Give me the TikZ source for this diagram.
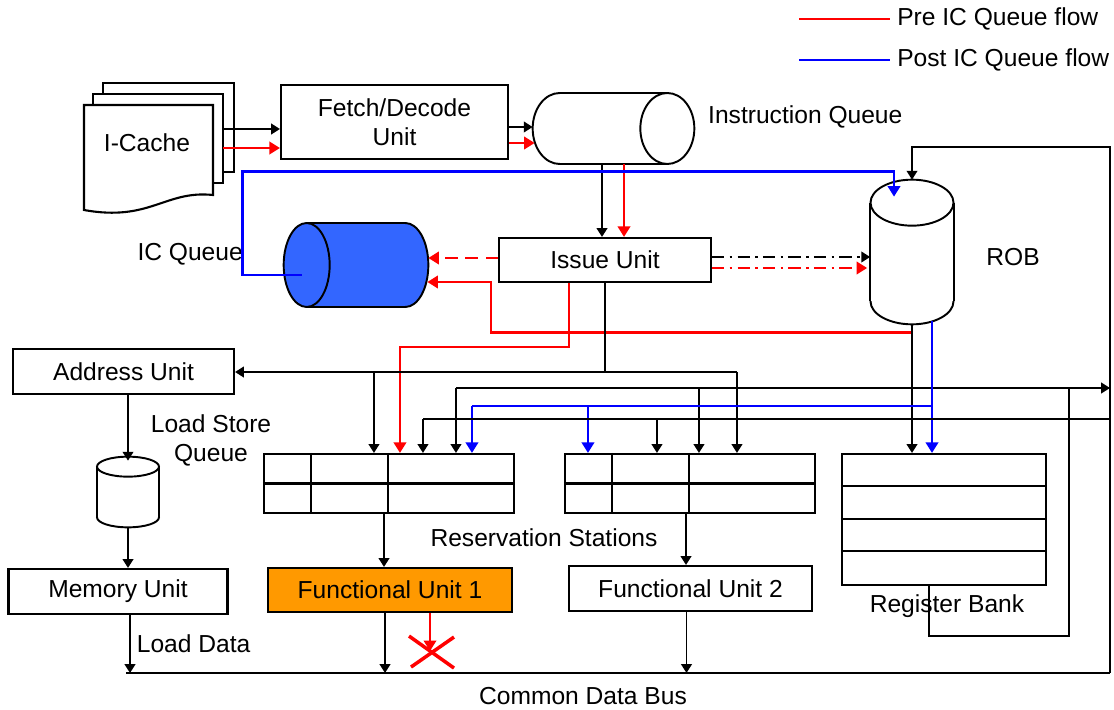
\documentclass[tikz,border=0pt]{standalone}
\usepackage{fontspec}
\setmainfont{Liberation Sans}
\usetikzlibrary{arrows.meta,calc}

\definecolor{preflow}{RGB}{255,0,0}
\definecolor{postflow}{RGB}{0,0,255}
\definecolor{icqfill}{RGB}{51,102,255}
\definecolor{fuorange}{RGB}{255,153,0}

\tikzset{
  unit/.style={draw, line width=1.2pt, fill=white, inner sep=0pt},
  frame/.style={inner sep=0pt},
  qline/.style={line width=1.1pt},
  link/.style={line width=1.1pt},
  arr/.style={-{Triangle[length=5pt,width=6pt]}},
  carr/.style={-{Triangle[length=6pt,width=7pt]}},
  pre/.style={preflow, line width=1.6pt},
  post/.style={postflow, line width=1.6pt},
  dashdot/.style={dash pattern=on 7pt off 3pt on 1.5pt off 3pt},
}

\begin{document}
\begin{tikzpicture}[x=0.02cm, y=-0.02cm, font=\fontsize{14}{16.5}\selectfont]
  \useasboundingbox (0,0) rectangle (1114,709);

  % Legend
  \coordinate (lgpre) at (799,19);
  \coordinate (lgpost) at (799,60);
  \draw[pre] (lgpre) -- ++(91,0) node[right, black] (lgpretxt) {Pre IC Queue flow};
  \draw[post] (lgpost) -- ++(91,0) node[right, black] (lgposttxt) {Post IC Queue flow};

  % I-Cache pages
  \draw[unit] (103,83) rectangle (234,172);
  \draw[unit] (93,94) rectangle (223,183);
  \draw[unit] (84,105) -- (213,105) -- (213,195) .. controls (165,190) and (150,222) .. (84,210) -- cycle;
  \node (icache) at (147,143) {I-Cache};
  \coordinate (icout1) at (223,129);
  \coordinate (icout2) at (223,148);

  % Fetch and instruction queue
  \node[unit, minimum width=4.54cm, minimum height=1.48cm, align=center] (fetch) at (394.5,122) {Fetch/Decode\\Unit};
  \node[frame, minimum width=3.22cm, minimum height=1.42cm] (iq) at (613.5,128.5) {};
  \filldraw[qline, fill=white] ($(iq.west)+(27,0)$) ellipse [x radius=27, y radius=35.5];
  \fill[white] ($(iq.north west)+(27,0)$) rectangle ($(iq.south east)+(-27,0)$);
  \draw[qline] ($(iq.north west)+(27,0)$) -- ($(iq.north east)+(-27,0)$);
  \draw[qline] ($(iq.south west)+(27,0)$) -- ($(iq.south east)+(-27,0)$);
  \filldraw[qline, fill=white] ($(iq.east)+(-27,0)$) ellipse [x radius=27, y radius=35.5];
  \node[right] (iqtxt) at (702,117) {Instruction Queue};

  % Issue unit and IC queue
  \node[unit, minimum width=4.24cm, minimum height=0.88cm] (issue) at (605,260) {Issue Unit};
  \node[frame, minimum width=2.88cm, minimum height=1.68cm] (icq) at (356,265) {};
  \filldraw[qline, fill=icqfill] ($(icq.east)+(-23,0)$) ellipse [x radius=23, y radius=42];
  \fill[icqfill] ($(icq.north west)+(23,0)$) rectangle ($(icq.south east)+(-23,0)$);
  \draw[qline] ($(icq.north west)+(23,0)$) -- ($(icq.north east)+(-23,0)$);
  \draw[qline] ($(icq.south west)+(23,0)$) -- ($(icq.south east)+(-23,0)$);
  \filldraw[qline, fill=icqfill] ($(icq.west)+(23,0)$) ellipse [x radius=23, y radius=42];
  \node[left] (icqtxt) at (249,254) {IC Queue};

  % ROB
  \node[frame, minimum width=1.66cm, minimum height=2.88cm] (rob) at (912,252) {};
  \filldraw[qline, fill=white] ($(rob.south)+(0,-23)$) ellipse [x radius=41.5, y radius=23];
  \fill[white] ($(rob.north west)+(0,23)$) rectangle ($(rob.south east)+(0,-23)$);
  \draw[qline] ($(rob.north west)+(0,23)$) -- ($(rob.south west)+(0,-23)$);
  \draw[qline] ($(rob.north east)+(0,23)$) -- ($(rob.south east)+(0,-23)$);
  \filldraw[qline, fill=white] ($(rob.north)+(0,23)$) ellipse [x radius=41.5, y radius=23];
  \node (robtxt) at (1013,257) {ROB};

  % Address unit and load store queue
  \node[unit, minimum width=4.42cm, minimum height=0.9cm] (addr) at (123.5,371.5) {Address Unit};
  \node[frame, minimum width=1.24cm, minimum height=1.4cm] (lsq) at (128,492) {};
  \filldraw[qline, fill=white] ($(lsq.south)+(0,-10)$) ellipse [x radius=31, y radius=10];
  \fill[white] ($(lsq.north west)+(0,10)$) rectangle ($(lsq.south east)+(0,-10)$);
  \draw[qline] ($(lsq.north west)+(0,10)$) -- ($(lsq.south west)+(0,-10)$);
  \draw[qline] ($(lsq.north east)+(0,10)$) -- ($(lsq.south east)+(0,-10)$);
  \filldraw[qline, fill=white] ($(lsq.north)+(0,10)$) ellipse [x radius=31, y radius=10];
  \node[align=center] (lsqtxt) at (211,440) {Load Store\\Queue};

  % Reservation stations and register bank
  \node[unit, minimum width=5cm, minimum height=1.18cm] (rs1) at (389,483.5) {};
  \node[unit, minimum width=5cm, minimum height=1.18cm] (rs2) at (690,483.5) {};
  \foreach \rs in {rs1,rs2}{
    \draw[line width=1.2pt] (\rs.west) -- (\rs.east);
    \foreach \dx in {48,125}
      \draw[line width=1.2pt] ($(\rs.north west)+(\dx,0)$) -- ($(\rs.south west)+(\dx,0)$);
  }
  \node (rstxt) at (544,538) {Reservation Stations};
  \node[unit, minimum width=4.08cm, minimum height=2.62cm] (regbank) at (944,519.5) {};
  \foreach \dy in {33,66,98}
    \draw[line width=1.2pt] ($(regbank.north west)+(0,\dy)$) -- ($(regbank.north east)+(0,\dy)$);
  \node (rbtxt) at (947,606) {Register Bank};

  \node[unit, minimum width=4.38cm, minimum height=0.9cm] (mem) at (118,591.5) {Memory Unit};
  \node[unit, fill=fuorange, minimum width=4.88cm, minimum height=0.88cm] (fu1) at (390,590) {Functional Unit 1};
  \node[unit, minimum width=4.86cm, minimum height=0.9cm] (fu2) at (690.5,588.5) {Functional Unit 2};

  % Common data bus
  \coordinate (busw) at (126,673);
  \coordinate (buse) at (1110,673);
  \draw[line width=1.2pt] (busw) -- (buse);
  \node (cdbtxt) at (583,696) {Common Data Bus};

  % Front end
  \draw[link,arr] (icout1) -- (icout1 -| fetch.west);
  \draw[pre,carr] (icout2) -- (icout2 -| fetch.west);
  \draw[link,arr] ($(fetch.east)+(0,5)$) coordinate (fo1) -- (fo1 -| iq.west);
  \draw[pre,carr] ($(fetch.east)+(0,21)$) coordinate (fo2) -- ($(fo2 -| iq.west)+(2,0)$);
  \coordinate (ii1) at ($(issue.north)+(-3,0)$);
  \coordinate (ii2) at ($(issue.north)+(19,0)$);
  \draw[link,arr] (ii1 |- iq.south) -- (ii1);
  \draw[pre,carr] (ii2 |- iq.south) -- (ii2);

  % Issue to ROB and IC Queue
  \draw[link,arr,dashdot] ($(issue.east)+(0,-3)$) coordinate (ir1) -- (ir1 -| rob.west);
  \draw[pre,carr,dashdot] ($(issue.east)+(0,8)$) coordinate (ir2) -- ($(ir2 -| rob.west)+(-3,0)$);
  \draw[pre,carr,dash pattern=on 7pt off 4.5pt] ($(issue.west)+(0,-2)$) coordinate (ic1) -- (ic1 -| icq.east);
  \coordinate (robred) at ($(rob.south)+(0,8)$);
  \coordinate (redbend) at (491,282);
  \draw[pre,carr] (robred) -| (redbend) -- ($(redbend -| icq.east)+(-1,0)$);

  % Post IC Queue flow into ROB
  \draw[post,carr] ($(icq.west)+(18,10)$) -- ++(-59,0) |- ($(rob.north)+(-18,-8)$) -- ($(rob.north)+(-18,17)$);

  % Ports on the reservation stations
  \foreach \pname/\dx in {pa1/111, pa2/137, pa3/160, pa4/193, pa5/209}
    \coordinate (\pname) at ($(rs1.north west)+(\dx,0)$);
  \foreach \pname/\dx in {pb1/24, pb2/93, pb3/135, pb4/173}
    \coordinate (\pname) at ($(rs2.north west)+(\dx,0)$);
  \coordinate (rowa) at (0,372);
  \coordinate (rowb) at (0,388);
  \coordinate (rowc) at (0,406);
  \coordinate (rowd) at (0,419);

  % Issue red path to RS
  \draw[pre,carr] ($(issue.south)+(-36,0)$) -- ++(0,64) -| (pa2);

  % Row a - issue dispatch
  \draw[link] (issue.south) -- (issue.south |- rowa);
  \draw[link,arr] (rowa -| pb4) -- (rowa -| addr.east);
  \draw[link,arr] (rowa -| pa1) -- (pa1);
  \draw[link,arr] (rowa -| pb4) -- (pb4);

  % Row b - register bank operands
  \draw[link,arr] (rowb -| pa4) -- (rowb -| buse);
  \draw[link,arr] (rowb -| pa4) -- (pa4);
  \draw[link,arr] (rowb -| pb3) -- (pb3);
  \draw[link] ($(regbank.south)+(-15,0)$) -- ++(0,50) -- ++(140,0) coordinate (rbloop) -- (rbloop |- rowb);

  % ROB outputs, row c
  \draw[link,arr] (rob.south) -- (rob.south |- regbank.north);
  \coordinate (robblue) at ($(rob.south)+(20,-3)$);
  \draw[post,carr] (robblue) -- (robblue |- regbank.north);
  \draw[post] (robblue |- rowc) -- (rowc -| pa5);
  \draw[post,carr] (rowc -| pa5) -- (pa5);
  \draw[post,carr] (rowc -| pb1) -- (pb1);

  % Row d - bus forwarding
  \draw[link] (rowd -| buse) -- (rowd -| pa3);
  \draw[link,arr] (rowd -| pa3) -- (pa3);
  \draw[link,arr] (rowd -| pb2) -- (pb2);
  \draw[link,arr] (buse) |- ($(rob.north)+(0,-33)$) -- (rob.north);

  % Load store path and execution
  \draw[link,arr] (addr.south -| lsq.north) -- ($(lsq.north)+(0,4)$);
  \draw[link,arr] (lsq.south) -- (lsq.south |- mem.north);
  \draw[link,arr] ($(rs1.south)+(-5,0)$) coordinate (rs1o) -- (rs1o |- fu1.north);
  \draw[link,arr] ($(rs2.south)+(-4,0)$) coordinate (rs2o) -- (rs2o |- fu2.north);
  \draw[link,arr] ($(mem.south)+(12,0)$) coordinate (memo) -- (memo |- busw) node[pos=0.5, right] (ldtxt) {Load Data};
  \draw[link,arr] ($(fu1.south)+(-5,0)$) coordinate (fu1o) -- (fu1o |- busw);
  \draw[link,arr] ($(fu2.south)+(-4,0)$) coordinate (fu2o) -- (fu2o |- busw);

  % Blocked result of functional unit 1
  \draw[pre,carr] ($(fu1.south)+(40,0)$) coordinate (fu1x) -- ++(0,38);
  \draw[preflow, line width=2pt] ($(fu1x)+(-21,23)$) -- ($(fu1x)+(24,55)$);
  \draw[preflow, line width=2pt] ($(fu1x)+(24,24)$) -- ($(fu1x)+(-19,54)$);
\end{tikzpicture}
\end{document}
